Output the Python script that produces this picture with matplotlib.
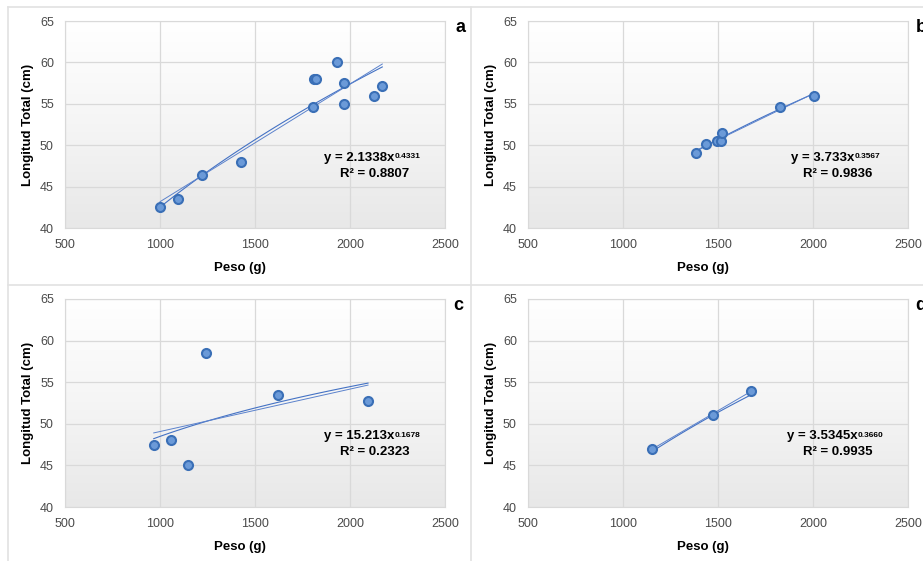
import numpy as np
import matplotlib.pyplot as plt
from matplotlib.colors import LinearSegmentedColormap
from matplotlib.lines import Line2D

plt.rcParams['font.family'] = ['Liberation Sans Narrow', 'Liberation Sans', 'DejaVu Sans']

# datos
peso_a = [1000, 1095, 1220, 1425, 1807, 1810, 1822, 1930, 1970, 1968, 2126, 2170]
long_a = [42.5, 43.5, 46.4, 48.0, 54.6, 58.0, 58.0, 60.0, 57.5, 55.0, 56.0, 57.2]
peso_b = [1386, 1437, 1493, 1514, 1523, 1827, 2006]
long_b = [49.0, 50.1, 50.5, 50.5, 51.5, 54.6, 56.0]
peso_c = [967, 1056, 1149, 1244, 1621, 2095]
long_c = [47.5, 48.0, 45.0, 58.5, 53.5, 52.8]
peso_d = [1151, 1472, 1672]
long_d = [47.0, 51.0, 54.0]

coef = [2.1338, 3.733, 15.213, 3.5345]
expo = [0.4331, 0.3567, 0.1678, 0.3660]
coef_txt = ["2.1338", "3.733", "15.213", "3.5345"]
expo_txt = ["0.4331", "0.3567", "0.1678", "0.3660"]
r2_txt = ["0.8807", "0.9836", "0.2323", "0.9935"]
letras = ["a", "b", "c", "d"]

xticks = [500, 1000, 1500, 2000, 2500]
yticks = [40, 45, 50, 55, 60, 65]

W, H = 923, 561
fig = plt.figure(figsize=(W / 100, H / 100), dpi=100)

# marcos de cada grafico
gris = "#e2e2e2"
for (x0, y0, x1, y1) in [(8, 7, 923, 7), (8, 7, 8, 561), (471, 7, 471, 561), (8, 285, 923, 285)]:
    fig.add_artist(Line2D([x0 / W, x1 / W], [1 - y0 / H, 1 - y1 / H], color=gris, lw=1.2,
                          transform=fig.transFigure))

# posiciones en pixeles: izq, der, arriba, abajo
cajas = [(65, 445, 21, 228), (528, 908, 21, 228), (65, 445, 299, 507), (528, 908, 299, 507)]
letra_pos = [(460, 27), (921, 27), (458, 306), (921, 306)]
datos = [(peso_a, long_a), (peso_b, long_b), (peso_c, long_c), (peso_d, long_d)]

fondo = LinearSegmentedColormap.from_list("fondo", ["#e8e8e8", "#f5f5f5", "#ffffff"])
grad = np.linspace(0, 1, 256).reshape(-1, 1)

for i in range(4):
    l, r, t, b = cajas[i]
    ax = fig.add_axes([l / W, 1 - b / H, (r - l) / W, (b - t) / H])
    x = np.array(datos[i][0], dtype=float)
    y = np.array(datos[i][1], dtype=float)

    ax.imshow(grad, extent=(500, 2500, 40, 65), origin="lower", aspect="auto", cmap=fondo, zorder=0)
    ax.set_xlim(500, 2500)
    ax.set_ylim(40, 65)
    ax.set_xticks(xticks)
    ax.set_yticks(yticks)
    ax.set_axisbelow(True)
    ax.grid(color="#d9d9d9", lw=0.9)
    for s in ax.spines.values():
        s.set_color("#d9d9d9")
    ax.tick_params(length=0, labelsize=9, labelcolor="#4a4a4a", pad=8)

    # lineas de tendencia: potencial (ecuacion) y lineal
    xs = np.linspace(x.min(), x.max(), 100)
    ax.plot(xs, coef[i] * xs ** expo[i], color="#4472c4", lw=0.8, zorder=2)
    m, n = np.polyfit(x, y, 1)
    ax.plot(xs, m * xs + n, color="#5b82cc", lw=0.7, zorder=2)

    ax.plot(x, y, "o", ms=6.5, mfc="#6b9ad8", mec="#3a6fb6", mew=1.5, zorder=3)

    ax.set_xlabel("Peso (g)", fontsize=9.5, fontweight="bold")
    ax.set_ylabel("Longitud Total (cm)", fontsize=9.5, fontweight="bold")
    ax.xaxis.set_label_coords((240 - 65) / 380, -0.165)
    ax.yaxis.set_label_coords(-0.082, 0.5)

    eq = ax.text(0.775, 0.34, f"y = {coef_txt[i]}x", transform=ax.transAxes,
                 ha="center", va="center", fontsize=9.5, fontweight="bold")
    ax.annotate(expo_txt[i], xy=(1, 1), xycoords=eq, xytext=(0, -1), textcoords="offset points",
                ha="left", va="top", fontsize=6, fontweight="bold")
    ax.text(0.815, 0.263, f"R² = {r2_txt[i]}", transform=ax.transAxes,
            ha="center", va="center", fontsize=9.5, fontweight="bold")

    fig.text(letra_pos[i][0] / W, 1 - letra_pos[i][1] / H, letras[i], ha="center", va="center",
             fontsize=13, fontweight="bold")

fig.savefig("out.png", dpi=100)
